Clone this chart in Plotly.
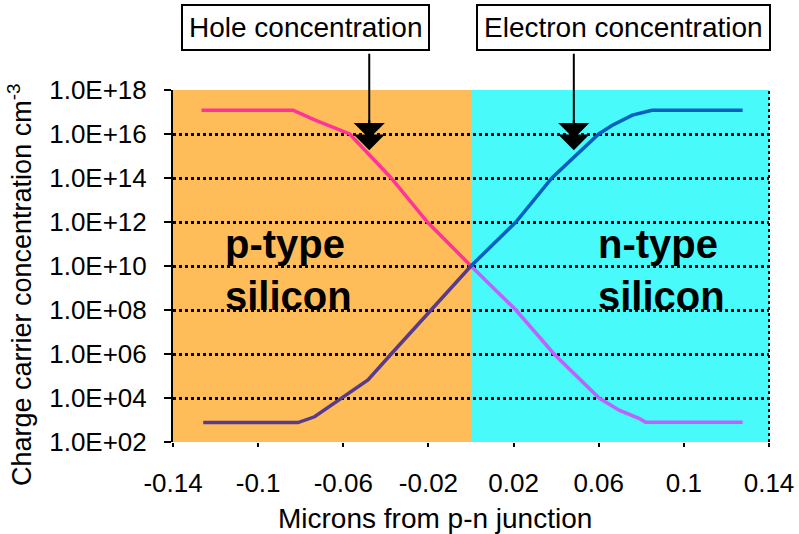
import plotly.graph_objects as go

# ---- data ----
hole_p_x = [-0.1266, -0.0836, -0.0735, -0.0640, -0.0570, -0.0375, -0.0205, 0.0]
hole_p_y = [1.2e17, 1.2e17, 4.4e16, 1.8e16, 1.0e16, 1.0e14, 1.0e12, 1.0e10]

hole_n_x = [0.0, 0.0211, 0.0390, 0.0602, 0.0696, 0.0789, 0.0820, 0.1276]
hole_n_y = [1.0e10, 1.0e8, 1.0e6, 1.0e4, 2.8e3, 1.2e3, 8.0e2, 8.0e2]

elec_p_x = [-0.1258, -0.0813, -0.0735, -0.0610, -0.0484, -0.0375, -0.0188, 0.0]
elec_p_y = [7.6e2, 7.6e2, 1.4e3, 1.0e4, 6.6e4, 1.0e6, 1.0e8, 1.0e10]

elec_n_x = [0.0, 0.0211, 0.0380, 0.0600, 0.0664, 0.0758, 0.0850, 0.1276]
elec_n_y = [1.0e10, 1.0e12, 1.0e14, 1.0e16, 2.5e16, 7.2e16, 1.2e17, 1.2e17]

region_edges = [-0.14, 0.0, 0.14]
region_colors = ["#FFBD5A", "#48FAFA"]

x_tickvals = [-0.14, -0.1, -0.06, -0.02, 0.02, 0.06, 0.1, 0.14]
x_ticktext = ["-0.14", "-0.1", "-0.06", "-0.02", "0.02", "0.06", "0.1", "0.14"]
y_tickvals = [1e2, 1e4, 1e6, 1e8, 1e10, 1e12, 1e14, 1e16, 1e18]
y_ticktext = ["1.0E+02", "1.0E+04", "1.0E+06", "1.0E+08", "1.0E+10",
              "1.0E+12", "1.0E+14", "1.0E+16", "1.0E+18"]

FONT = "Liberation Sans, Arial, sans-serif"

fig = go.Figure()
series = [
    (hole_p_x, hole_p_y, "#FF3399"),
    (hole_n_x, hole_n_y, "#C060FF"),
    (elec_p_x, elec_p_y, "#5A3A8A"),
    (elec_n_x, elec_n_y, "#0060C0"),
]
for xs, ys, col in series:
    fig.add_trace(go.Scatter(x=xs, y=ys, mode="lines",
                             line=dict(color=col, width=3.5),
                             showlegend=False, hoverinfo="skip"))

shapes = []
for i, col in enumerate(region_colors):
    shapes.append(dict(type="rect", xref="x", yref="paper",
                       x0=region_edges[i], x1=region_edges[i + 1], y0=0, y1=1,
                       fillcolor=col, line=dict(width=0), layer="below"))
shapes.append(dict(type="line", xref="paper", yref="paper", x0=1, x1=1, y0=0, y1=1,
                   line=dict(color="black", width=2, dash="dot")))

annotations = []
# labelled boxes
for text, xc in [("Hole concentration", -0.0778), ("Electron concentration", 0.0715)]:
    annotations.append(dict(text=text, x=xc, xref="x", y=1.177, yref="paper",
                            showarrow=False, font=dict(family=FONT, size=28, color="black"),
                            bgcolor="white", bordercolor="black", borderwidth=2,
                            borderpad=6, xanchor="center", yanchor="middle"))
# arrows
for xt in [-0.0478, 0.0483]:
    annotations.append(dict(text="", x=xt, xref="x", y=0.829, yref="paper",
                            showarrow=True, ax=0, ay=-98, arrowhead=1, arrowsize=2.6,
                            arrowwidth=2, arrowcolor="black"))
    annotations.append(dict(text="", x=xt, xref="x", y=0.862, yref="paper",
                            showarrow=True, ax=0, ay=-20, arrowhead=1, arrowsize=2.6,
                            arrowwidth=2, arrowcolor="black"))
# region labels
for xl in [-0.1163, 0.0586]:
    lab = "p-type" if xl < 0 else "n-type"
    annotations.append(dict(text="<b>%s</b>" % lab, x=xl, xref="x", y=0.5625, yref="paper",
                            showarrow=False, xanchor="left", yanchor="middle",
                            font=dict(family=FONT, size=40, color="black")))
    annotations.append(dict(text="<b>silicon</b>", x=xl, xref="x", y=0.4148, yref="paper",
                            showarrow=False, xanchor="left", yanchor="middle",
                            font=dict(family=FONT, size=40, color="black")))
# axis titles
annotations.append(dict(text="Microns from p-n junction", x=0.4396, xref="paper",
                        y=-0.216, yref="paper", showarrow=False,
                        xanchor="center", yanchor="middle",
                        font=dict(family=FONT, size=28, color="black")))
annotations.append(dict(text="Charge carrier concentration cm<sup>-3</sup>",
                        x=-0.2567, xref="paper", y=0.446, yref="paper",
                        showarrow=False, textangle=-90,
                        xanchor="center", yanchor="middle",
                        font=dict(family=FONT, size=27, color="black")))

fig.update_layout(
    width=799, height=534,
    margin=dict(l=173, r=30, t=90, b=92),
    paper_bgcolor="white", plot_bgcolor="white",
    font=dict(family=FONT, size=26, color="black"),
    shapes=shapes, annotations=annotations,
    xaxis=dict(range=[-0.14, 0.14], tickvals=x_tickvals, ticktext=x_ticktext,
               showgrid=False, zeroline=False, showline=False,
               ticks="outside", ticklen=4, tickwidth=2, tickcolor="black",
               ticklabelstandoff=14,
               automargin=False, tickfont=dict(size=26)),
    yaxis=dict(type="log", range=[2, 18], tickvals=y_tickvals, ticktext=y_ticktext,
               showgrid=True, gridcolor="black", gridwidth=2.5, griddash="dot",
               showline=True, linecolor="black", linewidth=2,
               ticks="outside", ticklen=7, tickwidth=2, tickcolor="black",
               ticklabelstandoff=12, zeroline=False,
               automargin=False, tickfont=dict(size=26)),
)

fig.write_html("out.html")
